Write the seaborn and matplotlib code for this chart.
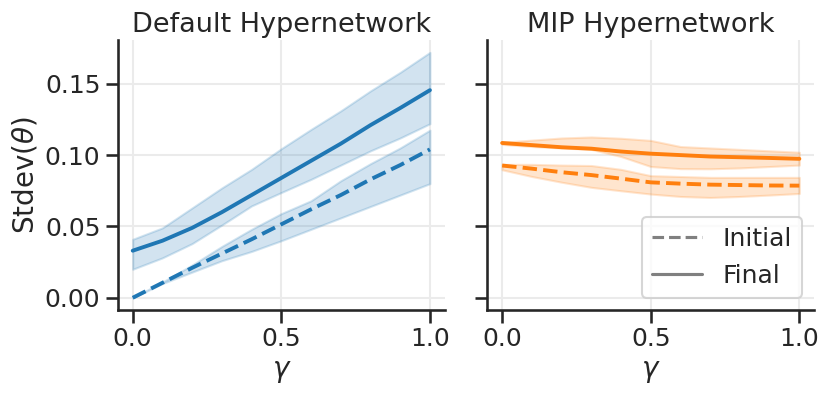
import numpy as np
import pandas as pd
import matplotlib
matplotlib.use("Agg")
import matplotlib.pyplot as plt
from matplotlib.lines import Line2D
import seaborn as sns

gamma = [0.0, 0.1, 0.2, 0.3, 0.4, 0.5, 0.6, 0.7, 0.8, 0.9, 1.0]

# Default Hypernetwork
def_final = [0.033, 0.040, 0.049, 0.060, 0.072, 0.084, 0.096, 0.108, 0.121, 0.133, 0.1455]
def_final_hi = [0.041, 0.049, 0.063, 0.077, 0.090, 0.1045, 0.118, 0.131, 0.145, 0.158, 0.172]
def_final_lo = [0.020, 0.028, 0.038, 0.051, 0.0644, 0.0738, 0.083, 0.093, 0.103, 0.112, 0.122]
def_init = [0.000, 0.0105, 0.021, 0.031, 0.041, 0.0515, 0.062, 0.072, 0.083, 0.093, 0.104]
def_init_hi = [0.000, 0.011, 0.023, 0.036, 0.048, 0.059, 0.068, 0.082, 0.094, 0.105, 0.1175]
def_init_lo = [0.000, 0.010, 0.018, 0.026, 0.0325, 0.040, 0.048, 0.056, 0.064, 0.072, 0.080]

# MIP Hypernetwork
mip_final = [0.1085, 0.107, 0.1055, 0.104, 0.1025, 0.101, 0.100, 0.099, 0.0985, 0.098, 0.0974]
mip_final_hi = [0.1090, 0.1105, 0.112, 0.1127, 0.1118, 0.1103, 0.106, 0.105, 0.104, 0.103, 0.102]
mip_final_lo = [0.1075, 0.106, 0.105, 0.1045, 0.099, 0.092, 0.0905, 0.0904, 0.091, 0.092, 0.093]
mip_init = [0.0927, 0.0905, 0.088, 0.086, 0.0835, 0.0809, 0.080, 0.0793, 0.079, 0.0787, 0.0786]
mip_init_hi = [0.0935, 0.0935, 0.093, 0.0927, 0.090, 0.0856, 0.085, 0.0844, 0.0844, 0.0844, 0.0844]
mip_init_lo = [0.0897, 0.085, 0.081, 0.0774, 0.075, 0.0727, 0.071, 0.0703, 0.071, 0.072, 0.0731]

titles = ["Default Hypernetwork", "MIP Hypernetwork"]
colors = ["#1f77b4", "#ff7f0e"]
stages = ["Initial", "Final"]


def long_frame(init, init_lo, init_hi, final, final_lo, final_hi):
    rows = []
    for stage, mid, lo, hi in (("Initial", init, init_lo, init_hi),
                               ("Final", final, final_lo, final_hi)):
        for g, m, l, h in zip(gamma, mid, lo, hi):
            for v in (l, m, h):
                rows.append({"gamma": g, "std": v, "stage": stage})
    return pd.DataFrame(rows)


frames = [
    long_frame(def_init, def_init_lo, def_init_hi, def_final, def_final_lo, def_final_hi),
    long_frame(mip_init, mip_init_lo, mip_init_hi, mip_final, mip_final_lo, mip_final_hi),
]

sns.set_theme(context="talk", style="ticks",
              rc={"axes.grid": True, "grid.color": "#ebebeb",
                  "xtick.labelsize": 18, "ytick.labelsize": 18,
                  "axes.labelsize": 20, "legend.fontsize": 18})

fig, axes = plt.subplots(1, 2, figsize=(8.3, 3.97), dpi=100, sharey=True)
fig.subplots_adjust(left=0.142, right=0.981, bottom=0.219, top=0.899, wspace=0.13)

for ax, df, title, color in zip(axes, frames, titles, colors):
    sns.lineplot(data=df, x="gamma", y="std", style="stage", style_order=stages,
                 dashes={"Initial": (3.7, 1.6), "Final": ""}, linewidth=2.8,
                 color=color, estimator="median", errorbar=("pi", 100),
                 err_kws={"alpha": 0.2}, ax=ax, legend=False)
    ax.set_title(title, fontsize=19.5)
    ax.set_xlabel(r"$\gamma$")
    ax.set_xticks([0.0, 0.5, 1.0])
    sns.despine(ax=ax)

axes[0].set_ylabel(r"Stdev($\theta$)")
axes[1].set_ylabel("")
axes[0].set_yticks([0.0, 0.05, 0.10, 0.15])

handles = [Line2D([], [], color="gray", lw=2.25, ls=(0, (3.7, 1.6))),
           Line2D([], [], color="gray", lw=2.25)]
axes[1].legend(handles, stages, loc="lower right")

fig.savefig("out.png", dpi=100)
